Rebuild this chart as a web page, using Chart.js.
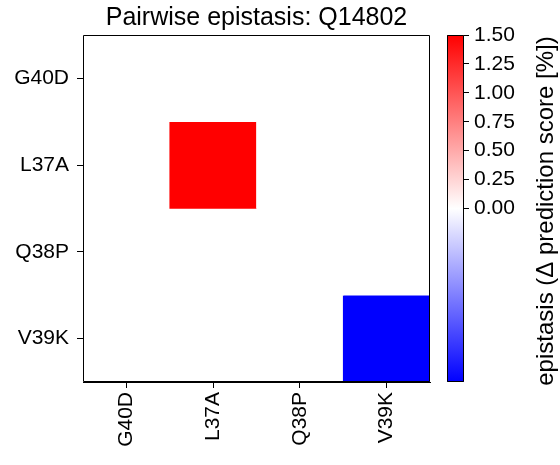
<!DOCTYPE html>
<html>
<head>
<meta charset="utf-8">
<script src="https://cdn.jsdelivr.net/npm/chart.js@4"></script>
<style>
  html, body { margin: 0; padding: 0; background: #fff; }
  #wrap { position: relative; width: 560px; height: 465px; }
  #heat { position: absolute; left: 0; top: 0; }
  #cbar { position: absolute; left: 440px; top: 0; }
</style>
</head>
<body>
<div id="wrap">
  <canvas id="heat" width="440" height="465"></canvas>
  <canvas id="cbar" width="120" height="465"></canvas>
</div>
<script>
// mutations on both axes
const mutations = ['G40D', 'L37A', 'Q38P', 'V39K'];
// epistasis values, rows = y mutation, cols = x mutation
const epistasis = [
  [0, 0, 0, 0],
  [0, 1.5, 0, 0],
  [0, 0, 0, 0],
  [0, 0, 0, -1.5]
];
const vmin = -1.5;
const vmax = 1.5;
const cbTicks = [0, 0.25, 0.5, 0.75, 1.0, 1.25, 1.5];

Chart.defaults.font.family = "'Liberation Sans', Arial, sans-serif";
Chart.defaults.color = '#000';

// matplotlib bwr colormap
function bwr(v) {
  let t = (v - vmin) / (vmax - vmin);
  t = Math.max(0, Math.min(1, t));
  let r, g, b;
  if (t < 0.5) { r = g = Math.round(255 * 2 * t); b = 255; }
  else { r = 255; g = b = Math.round(255 * 2 * (1 - t)); }
  return `rgb(${r},${g},${b})`;
}

// black box round the chart area, like matplotlib spines
const frame = {
  id: 'frame',
  afterDraw(chart) {
    const { ctx, chartArea: a } = chart;
    ctx.save();
    ctx.strokeStyle = '#000';
    ctx.lineWidth = 1;
    ctx.beginPath();
    ctx.rect(Math.round(a.left) + 0.5, Math.round(a.top) + 0.5,
      Math.round(a.right - a.left) - 1, Math.round(a.bottom - a.top) - 1);
    ctx.stroke();
    ctx.restore();
  }
};

new Chart(document.getElementById('heat'), {
  type: 'bar',
  data: {
    labels: mutations,
    datasets: epistasis.map((row, r) => ({
      data: mutations.map(() => [r - 0.5, r + 0.5]),
      backgroundColor: row.map(bwr),
      borderWidth: 0,
      grouped: false,
      barPercentage: 1,
      categoryPercentage: 1
    }))
  },
  options: {
    responsive: false,
    animation: false,
    layout: { padding: { left: 0, right: 10, top: 0, bottom: 0 } },
    plugins: {
      legend: { display: false },
      tooltip: { enabled: false },
      title: {
        display: true,
        text: 'Pairwise epistasis: Q14802',
        fullSize: false,
        color: '#000',
        font: { size: 25, weight: 'normal' },
        padding: { top: 3, bottom: 2 }
      }
    },
    scales: {
      x: {
        type: 'category',
        offset: true,
        grid: { offset: false, drawOnChartArea: false, tickLength: 6, color: '#000' },
        border: { color: '#000' },
        ticks: { minRotation: 90, maxRotation: 90, padding: 4, font: { size: 21 }, color: '#000' },
        afterFit: s => { s.height = 83; }
      },
      y: {
        type: 'linear',
        reverse: true,
        min: -0.5,
        max: 3.5,
        afterBuildTicks: s => { s.ticks = mutations.map((_, i) => ({ value: i })); },
        grid: { drawOnChartArea: false, tickLength: 6, color: '#000' },
        border: { color: '#000' },
        ticks: { callback: v => mutations[v], padding: 8, font: { size: 21 }, color: '#000' },
        afterFit: s => { s.width = 83; }
      }
    }
  },
  plugins: [frame]
});

const cbLabel = {
  id: 'cbLabel',
  afterDraw(chart) {
    const { ctx } = chart;
    ctx.save();
    ctx.translate(106, 211);
    ctx.rotate(-Math.PI / 2);
    ctx.fillStyle = '#000';
    ctx.font = "24px 'Liberation Sans', Arial, sans-serif";
    ctx.textAlign = 'center';
    ctx.textBaseline = 'middle';
    ctx.fillText('epistasis (\u0394 prediction score [%])', 0, 0);
    ctx.restore();
  }
};

new Chart(document.getElementById('cbar'), {
  type: 'bar',
  data: {
    labels: [''],
    datasets: [{
      data: [[vmin, vmax]],
      backgroundColor: c => {
        const ch = c.chart;
        if (!ch.chartArea) return '#fff';
        const y = ch.scales.y;
        const g = ch.ctx.createLinearGradient(0, y.getPixelForValue(vmin), 0, y.getPixelForValue(vmax));
        g.addColorStop(0, bwr(vmin));
        g.addColorStop(0.5, bwr(0));
        g.addColorStop(1, bwr(vmax));
        return g;
      },
      borderWidth: 0,
      barPercentage: 1,
      categoryPercentage: 1
    }]
  },
  options: {
    responsive: false,
    animation: false,
    layout: { padding: { left: 7, right: 0, top: 35, bottom: 83 } },
    plugins: { legend: { display: false }, tooltip: { enabled: false } },
    scales: {
      x: { display: false },
      y: {
        position: 'right',
        min: vmin,
        max: vmax,
        afterBuildTicks: s => { s.ticks = cbTicks.map(v => ({ value: v })); },
        grid: { drawOnChartArea: false, tickLength: 5, color: '#000' },
        border: { display: false },
        ticks: { callback: v => v.toFixed(2), padding: 5, font: { size: 21 }, color: '#000' },
        afterFit: s => { s.width = 96; }
      }
    }
  },
  plugins: [cbLabel, frame]
});
</script>
</body>
</html>
